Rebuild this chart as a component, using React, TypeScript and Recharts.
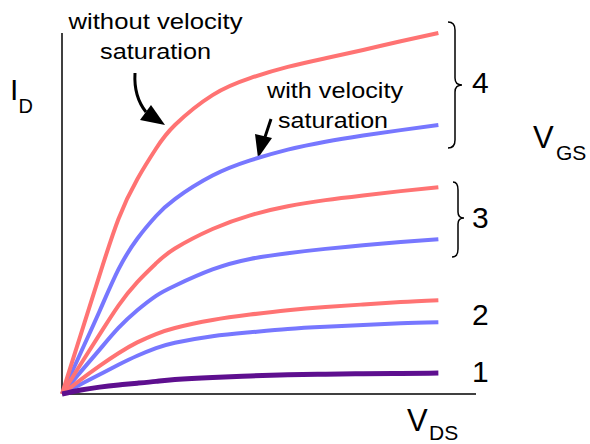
import { Customized, Line, LineChart, ReferenceLine, XAxis, YAxis } from "recharts";

// V_DS sample points (arbitrary units)
const vds = [0, 0.5, 1, 1.5, 2, 2.5, 3, 4, 5, 6, 7, 8, 9, 10];

// I_D without velocity saturation (red), per V_GS step
const noSat4 = [0, 1.65, 3.3, 4.85, 5.95, 6.8, 7.45, 8.28, 8.75, 9.06, 9.3, 9.53, 9.77, 10.0];
const noSat3 = [0, 0.83, 1.65, 2.45, 3.1, 3.62, 4.03, 4.57, 4.95, 5.2, 5.37, 5.5, 5.62, 5.73];
const noSat2 = [0, 0.4, 0.78, 1.13, 1.43, 1.66, 1.83, 2.05, 2.2, 2.32, 2.41, 2.48, 2.55, 2.6];

// I_D with velocity saturation (blue)
const sat4 = [0, 1.15, 2.3, 3.45, 4.3, 4.93, 5.4, 6.05, 6.47, 6.77, 6.99, 7.16, 7.31, 7.45];
const sat3 = [0, 0.62, 1.23, 1.83, 2.32, 2.72, 3.0, 3.45, 3.74, 3.9, 4.02, 4.12, 4.21, 4.29];
const sat2 = [0, 0.27, 0.54, 0.81, 1.06, 1.27, 1.42, 1.6, 1.71, 1.8, 1.86, 1.91, 1.96, 1.99];

// V_GS = 1: both curves coincide
const curve1 = [0, 0.11, 0.19, 0.25, 0.3, 0.35, 0.4, 0.46, 0.5, 0.53, 0.55, 0.56, 0.57, 0.58];

const vgsLabels = ["1", "2", "3", "4"];

const data = vds.map((v, i) => ({
  vds: v,
  noSat4: noSat4[i],
  noSat3: noSat3[i],
  noSat2: noSat2[i],
  sat4: sat4[i],
  sat3: sat3[i],
  sat2: sat2[i],
  curve1: curve1[i],
}));

const RED = "#ff7373";
const BLUE = "#7777ff";
const FONT = "'Liberation Sans', Arial, sans-serif";

function Annotations() {
  return (
    <g fontFamily={FONT} fill="#000">
      <text x={155.5} y={29} fontSize={22} textAnchor="middle" textLength={174} lengthAdjust="spacingAndGlyphs">
        without velocity
      </text>
      <text x={155.5} y={59} fontSize={22} textAnchor="middle" textLength={111} lengthAdjust="spacingAndGlyphs">
        saturation
      </text>
      <text x={335} y={98} fontSize={22} textAnchor="middle" textLength={136} lengthAdjust="spacingAndGlyphs">
        with velocity
      </text>
      <text x={333} y={128} fontSize={22} textAnchor="middle" textLength={110} lengthAdjust="spacingAndGlyphs">
        saturation
      </text>

      {/* arrows */}
      <path d="M135,73 C134,90 138,102 146,112" stroke="#000" strokeWidth={3} fill="none" />
      <polygon points="165,125 140,120 151,105" />
      <path d="M271,119 L265,137" stroke="#000" strokeWidth={3} fill="none" />
      <polygon points="258,158 255,134 272,138" />

      {/* braces */}
      <path
        d="M448,22 Q455,22 455,30 L455,78 Q455,85 462,85 Q455,85 455,92 L455,140 Q455,148 448,148"
        stroke="#000"
        strokeWidth={1.5}
        fill="none"
      />
      <path
        d="M453,182 Q458,182 458,190 L458,212 Q458,218 464,218 Q458,218 458,224 L458,249 Q458,257 452,257"
        stroke="#000"
        strokeWidth={1.5}
        fill="none"
      />

      {/* V_GS step labels */}
      <text x={472} y={382} fontSize={30}>{vgsLabels[0]}</text>
      <text x={472} y={325} fontSize={30}>{vgsLabels[1]}</text>
      <text x={472} y={228} fontSize={30}>{vgsLabels[2]}</text>
      <text x={472} y={93} fontSize={30}>{vgsLabels[3]}</text>

      {/* axis names */}
      <text x={10} y={100} fontSize={30}>I</text>
      <text x={18.5} y={113} fontSize={20}>D</text>
      <text x={533} y={148} fontSize={31}>V</text>
      <text x={556} y={160} fontSize={21}>GS</text>
      <text x={407} y={431} fontSize={31}>V</text>
      <text x={429} y={440} fontSize={21}>DS</text>
    </g>
  );
}

export default function App() {
  return (
    <div style={{ position: "absolute", left: 0, top: 0, background: "#fff" }}>
      <LineChart
        width={590}
        height={444}
        data={data}
        margin={{ top: 33, right: 114, left: 62, bottom: 50 }}
      >
        <XAxis dataKey="vds" type="number" domain={[0, 11]} hide />
        <YAxis type="number" domain={[0, 10]} hide />
        <ReferenceLine x={0} stroke="#000" strokeWidth={1.5} />
        <ReferenceLine y={0} stroke="#000" strokeWidth={1.5} />
        <Line type="natural" dataKey="sat2" stroke={BLUE} strokeWidth={4} dot={false} isAnimationActive={false} />
        <Line type="natural" dataKey="sat3" stroke={BLUE} strokeWidth={4} dot={false} isAnimationActive={false} />
        <Line type="natural" dataKey="sat4" stroke={BLUE} strokeWidth={4} dot={false} isAnimationActive={false} />
        <Line type="natural" dataKey="noSat2" stroke={RED} strokeWidth={4} dot={false} isAnimationActive={false} />
        <Line type="natural" dataKey="noSat3" stroke={RED} strokeWidth={4} dot={false} isAnimationActive={false} />
        <Line type="natural" dataKey="noSat4" stroke={RED} strokeWidth={4} dot={false} isAnimationActive={false} />
        <Line type="natural" dataKey="curve1" stroke="#5e0f8f" strokeWidth={5} dot={false} isAnimationActive={false} />
        <Customized component={Annotations} />
      </LineChart>
    </div>
  );
}
